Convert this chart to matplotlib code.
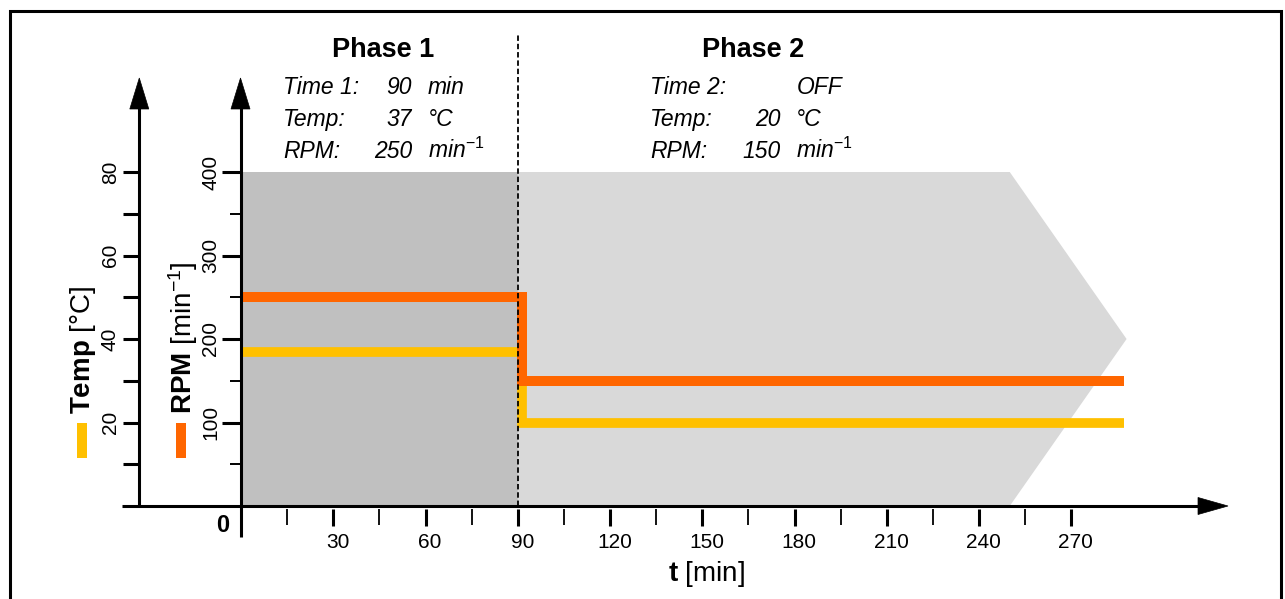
import matplotlib.pyplot as plt
from matplotlib.patches import Polygon, Rectangle

plt.rcParams['font.family'] = ['Liberation Sans', 'DejaVu Sans']
plt.rcParams['mathtext.fontset'] = 'custom'
plt.rcParams['mathtext.rm'] = 'Liberation Sans'
plt.rcParams['mathtext.it'] = 'Liberation Sans:italic'
plt.rcParams['mathtext.bf'] = 'Liberation Sans:bold'

# program settings per phase
phase_names = ['Phase 1', 'Phase 2']
phase_time = ['90', 'OFF']
phase_temp = [37, 20]
phase_rpm = [250, 150]
phase_switch = 90          # min

# drawn curves (t in min)
rpm_t = [0, 91.5, 91.5, 287]
rpm_v = [250, 250, 150, 150]
temp_t = [0, 91.5, 91.5, 287]
temp_v = [37, 37, 20, 20]

# shaded areas
box1_t = [0, 90]
box1_rpm = [0, 400]
arrow2_t = [90, 90, 250, 288, 250]
arrow2_rpm = [0, 400, 400, 200, 0]

# ticks
t_major = [30, 60, 90, 120, 150, 180, 210, 240, 270]
t_minor = [15, 45, 75, 105, 135, 165, 195, 225, 255]
rpm_major = [100, 200, 300, 400]
rpm_minor = [50, 150, 250, 350]
temp_ticks = [10, 20, 30, 40, 50, 60, 70, 80]
temp_labels = [20, 40, 60, 80]

ORANGE = '#ff6600'
YELLOW = '#ffc000'

# layout (pixels)
W, H = 1285, 599
X0, Y0 = 241, 506        # pixel position of t=0 / rpm=0
SX, SY = 3.075, 0.835    # px per min, px per rpm


def tx(px):
    return (px - X0) / SX


def ry(py):
    return (Y0 - py) / SY


fig = plt.figure(figsize=(W / 100, H / 100), dpi=100)
ax = fig.add_axes([0, 0, 1, 1])
ax.set_xlim(tx(0), tx(W))
ax.set_ylim(ry(H), ry(0))
ax.axis('off')

# temperature scale: 80 degC <-> 400 rpm
ax_t = ax.twinx()
ax_t.set_ylim(ry(H) * 80 / 400, ry(0) * 80 / 400)
ax_t.axis('off')
ax_t.set_zorder(ax.get_zorder() + 1)
ax_t.patch.set_visible(False)


def ptxt(xp, yp, s, **kw):
    fig.text(xp / W, 1 - yp / H, s, **kw)


# outer frame
fig.add_artist(Rectangle((10 / W, -0.2), (1281 - 10) / W, 1.2 - 11 / H,
                         transform=fig.transFigure, fill=False, lw=2.2, ec='black'))

# shaded phases
ax.fill_between(box1_t, box1_rpm[0], box1_rpm[1], color='#c0c0c0', lw=0, zorder=1)
ax.add_patch(Polygon(list(zip(arrow2_t, arrow2_rpm)), closed=True, fc='#d9d9d9', lw=0, zorder=1))

# curves
ax_t.plot(temp_t, temp_v, color=YELLOW, lw=7, solid_joinstyle='miter',
          solid_capstyle='butt', zorder=3)
ax_t.plot(rpm_t, [v * 80 / 400 for v in rpm_v], color=ORANGE, lw=7.2,
          solid_joinstyle='miter', solid_capstyle='butt', zorder=4)

# phase divider
ax_t.plot([phase_switch, phase_switch], [ry(506) * 0.2, ry(35) * 0.2], color='black',
          lw=1.3, ls=(0, (3, 1.6)), zorder=5)

# axes lines
k = dict(color='black', lw=2.2, solid_capstyle='butt', zorder=6)
ax_t.plot([tx(122), tx(1200)], [0, 0], **k)
ax_t.plot([0, 0], [ry(537) * 0.2, ry(106) * 0.2], **k)
ax_t.plot([tx(139.3), tx(139.3)], [0, ry(106) * 0.2], **k)

# arrow heads
for xp in (139.3, 240.5):
    ax.add_patch(Polygon([(tx(xp - 9.5), ry(109)), (tx(xp), ry(78)), (tx(xp + 9.5), ry(109))],
                         closed=True, fc='black', ec='black', lw=0.5, zorder=7))
ax.add_patch(Polygon([(tx(1198), ry(497.5)), (tx(1228), ry(506)), (tx(1198), ry(514.5))],
                     closed=True, fc='black', ec='black', lw=0.5, zorder=7))

TICK_FS = 15

# x ticks
for t in t_major:
    ax.plot([t, t], [ry(509), ry(526)], color='black', lw=2.2, solid_capstyle='butt', zorder=6)
    ax.text(t + 1.5, ry(543), str(t), ha='center', va='center', fontsize=TICK_FS)
for t in t_minor:
    ax.plot([t, t], [ry(509), ry(525)], color='black', lw=1.3, solid_capstyle='butt', zorder=6)

# rpm ticks
for r in rpm_major:
    ax.plot([tx(222), 0], [r, r], color='black', lw=2.2, solid_capstyle='butt', zorder=6)
    ax.text(tx(210.7), r, str(r), ha='center', va='center', rotation=90, fontsize=TICK_FS)
for r in rpm_minor:
    ax.plot([tx(230), 0], [r, r], color='black', lw=1.4, solid_capstyle='butt', zorder=6)

# temp ticks
for c in temp_ticks:
    ax_t.plot([tx(122.7), tx(139.3)], [c, c], color='black', lw=2.2, solid_capstyle='butt', zorder=6)
for c in temp_labels:
    ax_t.text(tx(110.5), c, str(c), ha='center', va='center', rotation=90, fontsize=TICK_FS)

# axis labels
ptxt(223, 525, '0', ha='center', va='center', fontsize=17, fontweight='bold')
ptxt(707, 581, r'$\mathbf{t}$ [min]', ha='center', va='baseline', fontsize=20)
ptxt(83, 414, r'$\mathbf{Temp}$ [°C]', ha='center', va='bottom', rotation=90, fontsize=20)
ptxt(183, 414, r'$\mathbf{RPM}$ [min$^{-1}$]', ha='center', va='bottom', rotation=90, fontsize=20)
ax.plot([tx(82), tx(82)], [ry(423), ry(458)], color=YELLOW, lw=7.2, solid_capstyle='butt')
ax.plot([tx(181), tx(181)], [ry(423), ry(458)], color=ORANGE, lw=7.2, solid_capstyle='butt')

# phase info
it = dict(fontsize=16.5, fontstyle='italic', va='baseline')
ptxt(383, 57, phase_names[0], ha='center', va='baseline', fontsize=19.5, fontweight='bold')
ptxt(753.5, 57, phase_names[1], ha='center', va='baseline', fontsize=19.5, fontweight='bold')

ptxt(283, 94, 'Time 1:', ha='left', **it)
ptxt(283, 126, 'Temp:', ha='left', **it)
ptxt(283, 158, 'RPM:', ha='left', **it)
ptxt(412, 94, phase_time[0], ha='right', **it)
ptxt(412, 126, str(phase_temp[0]), ha='right', **it)
ptxt(412, 158, str(phase_rpm[0]), ha='right', **it)
ptxt(428, 94, 'min', ha='left', **it)
ptxt(428, 126, '°C', ha='left', **it)
ptxt(428, 158, r'min$^{\mathit{-1}}$', ha='left', **it)

ptxt(650, 94, 'Time 2:', ha='left', **it)
ptxt(650, 126, 'Temp:', ha='left', **it)
ptxt(650, 158, 'RPM:', ha='left', **it)
ptxt(797, 94, phase_time[1], ha='left', **it)
ptxt(781, 126, str(phase_temp[1]), ha='right', **it)
ptxt(781, 158, str(phase_rpm[1]), ha='right', **it)
ptxt(796, 126, '°C', ha='left', **it)
ptxt(796, 158, r'min$^{\mathit{-1}}$', ha='left', **it)

fig.savefig('out.png', dpi=100)
